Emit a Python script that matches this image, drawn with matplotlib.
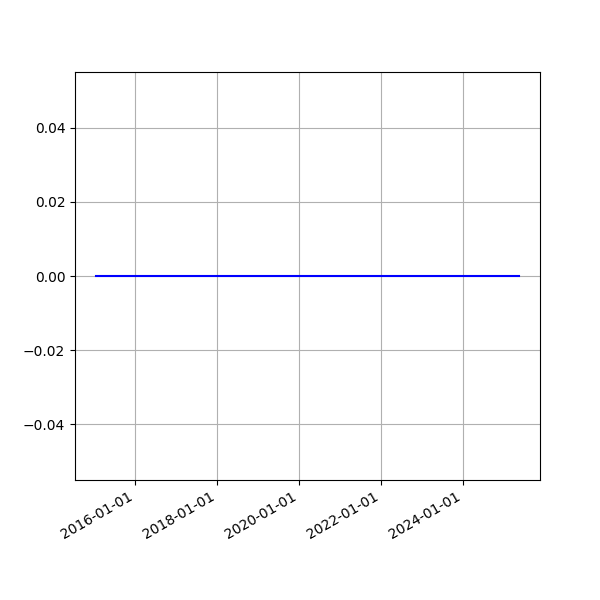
import matplotlib

matplotlib.use("Agg")

import matplotlib.dates as mdates
import matplotlib.pyplot as plt
import pandas as pd

# series endpoints (flat line at zero)
dates = ["2015-01-18", "2025-05-12"]
values = [0.0, 0.0]


def make_chart():
    x = pd.to_datetime(dates)
    fig, ax = plt.subplots(figsize=(6, 6), dpi=100)
    ax.plot(x, values, color="blue")
    ax.xaxis.set_major_locator(mdates.YearLocator(2))
    ax.xaxis.set_major_formatter(mdates.DateFormatter("%Y-%m-%d"))
    ax.grid(True)
    fig.autofmt_xdate()
    fig.savefig("out.png", dpi=100)
    plt.close(fig)


if __name__ == "__main__":
    make_chart()
